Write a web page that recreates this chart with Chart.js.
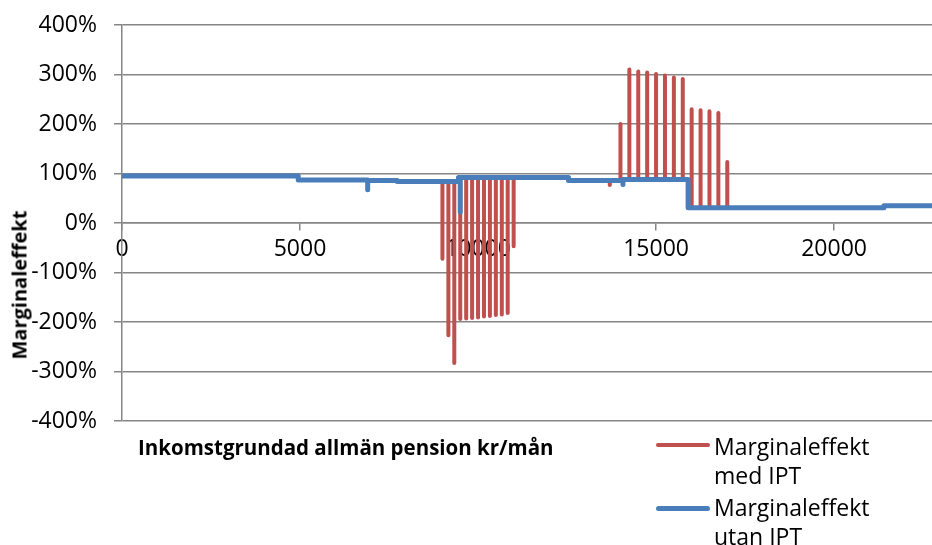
<!DOCTYPE html>
<html>
<head>
<meta charset="utf-8">
<script src="https://cdn.jsdelivr.net/npm/chart.js@4.4.1/dist/chart.umd.min.js"></script>
<style>
  html, body { margin: 0; padding: 0; background: #fff; }
  #wrap { position: relative; width: 932px; height: 545px; overflow: hidden; font-family: 'Open Sans', sans-serif; color: #000; }
  #chart { position: absolute; left: 0; top: 0; }
  #ytitle { position: absolute; left: 19px; top: 285px; transform: translate(-50%, -50%) rotate(-90deg);
            font-weight: bold; font-size: 20px; white-space: nowrap; }
  #xtitle { position: absolute; left: 138px; top: 435px; font-weight: bold; font-size: 20.5px; line-height: 24px; white-space: nowrap; }
  .lg-line { position: absolute; left: 656px; width: 54px; border-radius: 3px; }
  .lg-text { position: absolute; left: 714px; font-size: 23px; line-height: 29px; white-space: nowrap; }
</style>
</head>
<body>
<div id="wrap">
  <canvas id="chart" width="932" height="545"></canvas>
  <div id="ytitle">Marginaleffekt</div>
  <div id="xtitle">Inkomstgrundad allmän pension kr/mån</div>
  <div class="lg-line" style="top:443px;height:4px;background:#C0504D"></div>
  <div class="lg-text" style="top:432px">Marginaleffekt<br>med IPT</div>
  <div class="lg-line" style="top:506px;height:5px;background:#4A7EBB"></div>
  <div class="lg-text" style="top:493px">Marginaleffekt<br>utan IPT</div>
</div>
<script>
const FONT = "'Open Sans', sans-serif";
const GRID = '#868686';
const RED = '#C0504D';
const BLUE = '#4A7EBB';

// axis ticks
const X_TICKS = [0, 5000, 10000, 15000, 20000];
const Y_TICKS = [-4, -3, -2, -1, 0, 1, 2, 3, 4];
const X_MAX = 22750;

// Marginaleffekt utan IPT (step line, dips drawn as down-and-back points)
const blueX = [0, 4950, 4950, 6900, 6900, 6900, 7730, 7730, 9450, 9450, 9500, 9500, 9500,
               12540, 12540, 14070, 14070, 14070, 15900, 15900, 21400, 21400, 22750];
const blueY = [0.95, 0.95, 0.87, 0.87, 0.67, 0.86, 0.86, 0.84, 0.84, 0.92, 0.92, 0.22, 0.92,
               0.92, 0.86, 0.86, 0.78, 0.88, 0.88, 0.31, 0.31, 0.35, 0.35];

// Marginaleffekt med IPT: spikes standing out from the blue line
const redSpikeX = [9000, 9167, 9333, 9500, 9667, 9833, 10000, 10167, 10333, 10500, 10667, 10833, 11000,
                   13700,
                   14000, 14250, 14500, 14750, 15000, 15250, 15500, 15750, 16000, 16250, 16500, 16750, 17000];
const redSpikeY = [-0.72, -2.27, -2.83, -1.94, -1.93, -1.92, -1.91, -1.89, -1.88, -1.86, -1.85, -1.82, -0.47,
                   0.77,
                   2.00, 3.10, 3.06, 3.04, 3.01, 2.98, 2.94, 2.91, 2.30, 2.28, 2.26, 2.22, 1.23];

// blue value at x (last point at or before x)
function baseAt(x){
  let v = blueY[0];
  for (let i = 0; i < blueX.length; i++) if (blueX[i] <= x) v = blueY[i];
  return v;
}

const bluePts = blueX.map((x, i) => ({ x, y: blueY[i] }));
const redPts = [];
redSpikeX.forEach((x, i) => {
  const b = baseAt(x);
  redPts.push({ x, y: b }, { x, y: redSpikeY[i] }, { x, y: b }, { x, y: null });
});

function lineDS(label, data, color, width){
  return {
    label, data,
    showLine: true,
    borderColor: color,
    backgroundColor: color,
    borderWidth: width,
    borderCapStyle: 'round',
    borderJoinStyle: 'round',
    pointRadius: 0,
    tension: 0,
    spanGaps: false
  };
}

new Chart(document.getElementById('chart'), {
  type: 'scatter',
  data: {
    datasets: [
      lineDS('Marginaleffekt utan IPT', bluePts, BLUE, 5),   // drawn on top
      lineDS('Marginaleffekt med IPT', redPts, RED, 4)
    ]
  },
  options: {
    responsive: false,
    animation: false,
    devicePixelRatio: 1,
    layout: { padding: { top: 25, right: 0, bottom: 124, left: 0 } },
    plugins: { legend: { display: false }, tooltip: { enabled: false } },
    scales: {
      x: {
        type: 'linear', min: 0, max: X_MAX,
        position: { y: 0 },
        afterFit: s => { s.height = 0; },
        afterBuildTicks: s => { s.ticks = X_TICKS.map(v => ({ value: v })); },
        grid: { drawOnChartArea: false, drawTicks: true, tickLength: 7, color: GRID, lineWidth: 1.5 },
        border: { display: true, color: GRID, width: 1.5 },
        ticks: { color: '#000', font: { family: FONT, size: 23 }, padding: 6, maxRotation: 0,
                 callback: v => String(v) }
      },
      y: {
        type: 'linear', min: -4, max: 4,
        // fixed axis width; drop the label padding so layout.padding sets the top
        afterFit: s => { s.width = 122; s.paddingTop = 0; s.paddingBottom = 0; },
        afterBuildTicks: s => { s.ticks = Y_TICKS.map(v => ({ value: v })); },
        grid: { color: GRID, lineWidth: 1.5, tickLength: 8 },
        border: { color: GRID, width: 1.5 },
        ticks: { color: '#000', font: { family: FONT, size: 23 }, padding: 17,
                 callback: v => Math.round(v * 100) + '%' }
      }
    }
  }
});
</script>
</body>
</html>
